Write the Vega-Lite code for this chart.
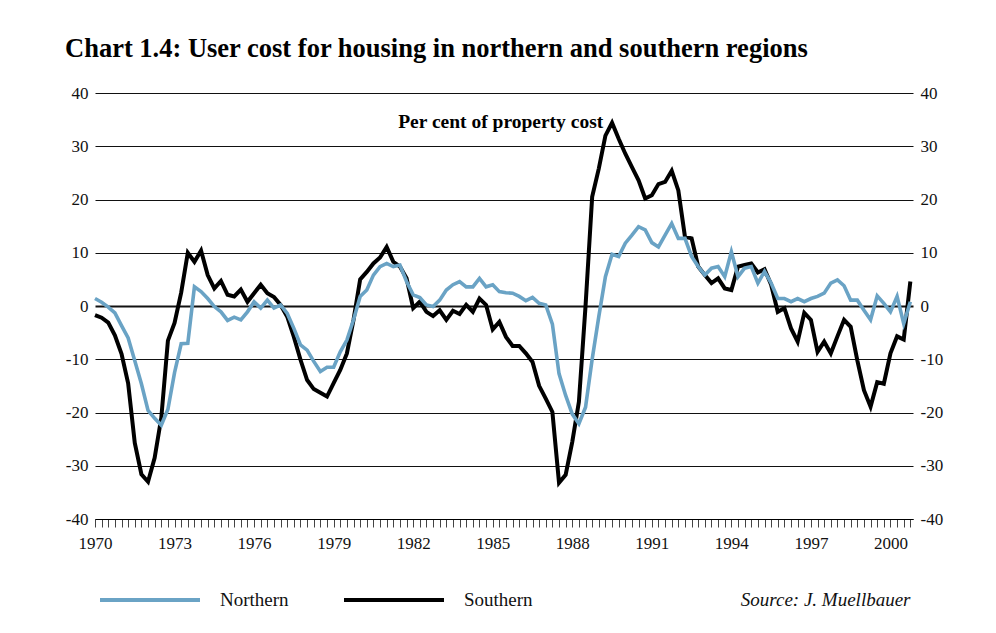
{
  "$schema": "https://vega.github.io/schema/vega-lite/v6.json",
  "width": 818,
  "height": 426,
  "autosize": {"type": "none"},
  "padding": {"left": 95, "top": 93, "right": 83, "bottom": 114},
  "background": "white",
  "title": {
    "text": "Chart 1.4: User cost for housing in northern and southern regions",
    "anchor": "start",
    "frame": "group",
    "dx": -30,
    "offset": 22,
    "font": "Liberation Serif",
    "fontSize": 26.5,
    "fontWeight": "bold",
    "color": "#000000"
  },
  "datasets": {
    "series": [
      {"t": 1970, "N": 1.4, "S": -1.7},
      {"t": 1970.25, "N": 0.7, "S": -2.2},
      {"t": 1970.5, "N": -0.2, "S": -3.1},
      {"t": 1970.75, "N": -1.3, "S": -5.5},
      {"t": 1971, "N": -3.7, "S": -9.0},
      {"t": 1971.25, "N": -6.0, "S": -14.5},
      {"t": 1971.5, "N": -10.3, "S": -25.7},
      {"t": 1971.75, "N": -14.6, "S": -31.6},
      {"t": 1972, "N": -19.6, "S": -33.0},
      {"t": 1972.25, "N": -21.1, "S": -28.5},
      {"t": 1972.5, "N": -22.4, "S": -21.0},
      {"t": 1972.75, "N": -19.4, "S": -6.5},
      {"t": 1973, "N": -12.5, "S": -3.2},
      {"t": 1973.25, "N": -7.1, "S": 2.5},
      {"t": 1973.5, "N": -7.0, "S": 10.0},
      {"t": 1973.75, "N": 3.6, "S": 8.3},
      {"t": 1974, "N": 2.7, "S": 10.4},
      {"t": 1974.25, "N": 1.4, "S": 5.8},
      {"t": 1974.5, "N": -0.1, "S": 3.3},
      {"t": 1974.75, "N": -1.1, "S": 4.7},
      {"t": 1975, "N": -2.7, "S": 2.1},
      {"t": 1975.25, "N": -2.1, "S": 1.8},
      {"t": 1975.5, "N": -2.6, "S": 3.1},
      {"t": 1975.75, "N": -1.1, "S": 0.8},
      {"t": 1976, "N": 0.8, "S": 2.4},
      {"t": 1976.25, "N": -0.4, "S": 4.0},
      {"t": 1976.5, "N": 1.1, "S": 2.4},
      {"t": 1976.75, "N": -0.4, "S": 1.7},
      {"t": 1977, "N": 0.2, "S": 0.2},
      {"t": 1977.25, "N": -1.4, "S": -2.0},
      {"t": 1977.5, "N": -4.2, "S": -5.8},
      {"t": 1977.75, "N": -7.3, "S": -10.1},
      {"t": 1978, "N": -8.3, "S": -13.9},
      {"t": 1978.25, "N": -10.4, "S": -15.6},
      {"t": 1978.5, "N": -12.3, "S": -16.3},
      {"t": 1978.75, "N": -11.5, "S": -17.0},
      {"t": 1979, "N": -11.5, "S": -14.5},
      {"t": 1979.25, "N": -8.6, "S": -12.0},
      {"t": 1979.5, "N": -6.4, "S": -8.9},
      {"t": 1979.75, "N": -2.6, "S": -2.6},
      {"t": 1980, "N": 1.8, "S": 5.0},
      {"t": 1980.25, "N": 3.0, "S": 6.4},
      {"t": 1980.5, "N": 5.8, "S": 8.0},
      {"t": 1980.75, "N": 7.4, "S": 9.1},
      {"t": 1981, "N": 8.0, "S": 11.1},
      {"t": 1981.25, "N": 7.4, "S": 8.3},
      {"t": 1981.5, "N": 7.7, "S": 7.4},
      {"t": 1981.75, "N": 4.6, "S": 5.2},
      {"t": 1982, "N": 2.1, "S": -0.4},
      {"t": 1982.25, "N": 1.6, "S": 0.8},
      {"t": 1982.5, "N": 0.2, "S": -1.1},
      {"t": 1982.75, "N": -0.1, "S": -1.9},
      {"t": 1983, "N": 1.1, "S": -0.8},
      {"t": 1983.25, "N": 3.0, "S": -2.6},
      {"t": 1983.5, "N": 4.0, "S": -0.9},
      {"t": 1983.75, "N": 4.6, "S": -1.5},
      {"t": 1984, "N": 3.6, "S": 0.2},
      {"t": 1984.25, "N": 3.6, "S": -1.1},
      {"t": 1984.5, "N": 5.2, "S": 1.4},
      {"t": 1984.75, "N": 3.6, "S": 0.2},
      {"t": 1985, "N": 4.0, "S": -4.4},
      {"t": 1985.25, "N": 2.7, "S": -3.0},
      {"t": 1985.5, "N": 2.5, "S": -5.8},
      {"t": 1985.75, "N": 2.4, "S": -7.5},
      {"t": 1986, "N": 1.8, "S": -7.5},
      {"t": 1986.25, "N": 1.0, "S": -8.9},
      {"t": 1986.5, "N": 1.6, "S": -10.5},
      {"t": 1986.75, "N": 0.5, "S": -15.0},
      {"t": 1987, "N": 0.2, "S": -17.4},
      {"t": 1987.25, "N": -3.4, "S": -19.9},
      {"t": 1987.5, "N": -12.7, "S": -33.2},
      {"t": 1987.75, "N": -16.8, "S": -31.7},
      {"t": 1988, "N": -20.3, "S": -25.5},
      {"t": 1988.25, "N": -22.1, "S": -18.0},
      {"t": 1988.5, "N": -19.0, "S": 0.0},
      {"t": 1988.75, "N": -10.0, "S": 20.5},
      {"t": 1989, "N": -2.0, "S": 25.8},
      {"t": 1989.25, "N": 5.5, "S": 32.0},
      {"t": 1989.5, "N": 9.7, "S": 34.4},
      {"t": 1989.75, "N": 9.3, "S": 31.4},
      {"t": 1990, "N": 11.8, "S": 28.6},
      {"t": 1990.25, "N": 13.3, "S": 26.1},
      {"t": 1990.5, "N": 14.9, "S": 23.6},
      {"t": 1990.75, "N": 14.3, "S": 20.2},
      {"t": 1991, "N": 11.9, "S": 20.8},
      {"t": 1991.25, "N": 11.1, "S": 22.9},
      {"t": 1991.5, "N": 13.3, "S": 23.3},
      {"t": 1991.75, "N": 15.5, "S": 25.4},
      {"t": 1992, "N": 12.7, "S": 21.7},
      {"t": 1992.25, "N": 12.7, "S": 13.0},
      {"t": 1992.5, "N": 9.3, "S": 12.7},
      {"t": 1992.75, "N": 7.4, "S": 7.4},
      {"t": 1993, "N": 5.8, "S": 5.8},
      {"t": 1993.25, "N": 7.1, "S": 4.3},
      {"t": 1993.5, "N": 7.4, "S": 5.2},
      {"t": 1993.75, "N": 5.5, "S": 3.3},
      {"t": 1994, "N": 10.2, "S": 3.0},
      {"t": 1994.25, "N": 5.5, "S": 7.4},
      {"t": 1994.5, "N": 7.1, "S": 7.7},
      {"t": 1994.75, "N": 7.4, "S": 8.0},
      {"t": 1995, "N": 4.3, "S": 6.3},
      {"t": 1995.25, "N": 6.5, "S": 6.9},
      {"t": 1995.5, "N": 4.3, "S": 4.0},
      {"t": 1995.75, "N": 1.4, "S": -1.1},
      {"t": 1996, "N": 1.4, "S": -0.4},
      {"t": 1996.25, "N": 0.8, "S": -4.2},
      {"t": 1996.5, "N": 1.4, "S": -6.7},
      {"t": 1996.75, "N": 0.8, "S": -1.3},
      {"t": 1997, "N": 1.4, "S": -2.6},
      {"t": 1997.25, "N": 1.8, "S": -8.6},
      {"t": 1997.5, "N": 2.4, "S": -6.7},
      {"t": 1997.75, "N": 4.3, "S": -8.9},
      {"t": 1998, "N": 4.9, "S": -5.7},
      {"t": 1998.25, "N": 3.8, "S": -2.6},
      {"t": 1998.5, "N": 1.1, "S": -3.9},
      {"t": 1998.75, "N": 1.1, "S": -10.2},
      {"t": 1999, "N": -0.8, "S": -15.8},
      {"t": 1999.25, "N": -2.6, "S": -18.9},
      {"t": 1999.5, "N": 1.9, "S": -14.3},
      {"t": 1999.75, "N": 0.5, "S": -14.6},
      {"t": 2000, "N": -1.1, "S": -8.9},
      {"t": 2000.25, "N": 1.8, "S": -5.7},
      {"t": 2000.5, "N": -3.3, "S": -6.3},
      {"t": 2000.75, "N": 0.8, "S": 4.6}
    ],
    "note": [
      {"t": 1985.3, "v": 33.4, "label": "Per cent of property cost"}
    ]
  },
  "layer": [
    {
      "data": {"name": "series"},
      "mark": {"type": "line", "strokeWidth": 4, "strokeJoin": "miter"},
      "encoding": {
        "x": {
          "field": "t",
          "type": "quantitative",
          "scale": {"domain": [1970, 2000.85], "nice": false, "zero": false},
          "axis": {
            "title": "Source: J. Muellbauer",
            "titleFont": "Liberation Serif",
            "titleFontStyle": "italic",
            "titleFontWeight": "normal",
            "titleFontSize": 19,
            "titleColor": "#111111",
            "titleAnchor": "end",
            "titleAlign": "right",
            "titleBaseline": "alphabetic",
            "titleX": 815,
            "titleY": 86,
            "values": [1970, 1970.25, 1970.5, 1970.75, 1971, 1971.25, 1971.5, 1971.75, 1972, 1972.25, 1972.5, 1972.75, 1973, 1973.25, 1973.5, 1973.75, 1974, 1974.25, 1974.5, 1974.75, 1975, 1975.25, 1975.5, 1975.75, 1976, 1976.25, 1976.5, 1976.75, 1977, 1977.25, 1977.5, 1977.75, 1978, 1978.25, 1978.5, 1978.75, 1979, 1979.25, 1979.5, 1979.75, 1980, 1980.25, 1980.5, 1980.75, 1981, 1981.25, 1981.5, 1981.75, 1982, 1982.25, 1982.5, 1982.75, 1983, 1983.25, 1983.5, 1983.75, 1984, 1984.25, 1984.5, 1984.75, 1985, 1985.25, 1985.5, 1985.75, 1986, 1986.25, 1986.5, 1986.75, 1987, 1987.25, 1987.5, 1987.75, 1988, 1988.25, 1988.5, 1988.75, 1989, 1989.25, 1989.5, 1989.75, 1990, 1990.25, 1990.5, 1990.75, 1991, 1991.25, 1991.5, 1991.75, 1992, 1992.25, 1992.5, 1992.75, 1993, 1993.25, 1993.5, 1993.75, 1994, 1994.25, 1994.5, 1994.75, 1995, 1995.25, 1995.5, 1995.75, 1996, 1996.25, 1996.5, 1996.75, 1997, 1997.25, 1997.5, 1997.75, 1998, 1998.25, 1998.5, 1998.75, 1999, 1999.25, 1999.5, 1999.75, 2000, 2000.25, 2000.5, 2000.75],
            "labelExpr": "(datum.value % 3 == 2 && datum.value == floor(datum.value)) ? toString(datum.value) : ''",
            "labelOverlap": false,
            "labelFlush": false,
            "labelFont": "Liberation Serif",
            "labelFontSize": 17,
            "labelColor": "#111111",
            "labelPadding": 8,
            "tickSize": 8,
            "tickColor": "#444444",
            "tickWidth": 1,
            "domainColor": "#000000",
            "domainWidth": 1.2,
            "grid": false
          }
        },
        "y": {
          "field": "S",
          "type": "quantitative",
          "scale": {"domain": [-40, 40], "nice": false},
          "axis": {
            "orient": "left",
            "title": null,
            "values": [-40, -30, -20, -10, 0, 10, 20, 30, 40],
            "labelExpr": "toString(datum.value)",
            "labelFont": "Liberation Serif",
            "labelFontSize": 17,
            "labelColor": "#111111",
            "labelPadding": 7,
            "ticks": false,
            "domain": false,
            "grid": true,
            "gridColor": "#111111",
            "gridOpacity": 1,
            "gridWidth": {"condition": {"test": "datum.value === 0", "value": 2}, "value": 1.2}
          }
        },
        "color": {
          "datum": "Southern",
          "type": "nominal",
          "scale": {"domain": ["Northern", "Southern"], "range": ["#6aa3c5", "#000000"]},
          "legend": {
            "orient": "none",
            "legendX": 3,
            "legendY": 455,
            "direction": "horizontal",
            "title": null,
            "symbolType": "stroke",
            "symbolSize": 10000,
            "symbolStrokeWidth": 4,
            "labelFont": "Liberation Serif",
            "labelFontSize": 19,
            "labelColor": "#111111",
            "labelOffset": 18,
            "columnPadding": 47,
            "padding": 0
          }
        }
      }
    },
    {
      "data": {"name": "series"},
      "mark": {"type": "line", "strokeWidth": 3.6, "strokeJoin": "miter"},
      "encoding": {
        "x": {"field": "t", "type": "quantitative", "axis": null},
        "y": {
          "field": "N",
          "type": "quantitative",
          "axis": {
            "orient": "right",
            "title": null,
            "values": [-40, -30, -20, -10, 0, 10, 20, 30, 40],
            "labelExpr": "toString(datum.value)",
            "labelFont": "Liberation Serif",
            "labelFontSize": 17,
            "labelColor": "#111111",
            "labelPadding": 7,
            "ticks": false,
            "domain": false,
            "grid": false
          }
        },
        "color": {"datum": "Northern", "type": "nominal"}
      }
    },
    {
      "data": {"name": "note"},
      "mark": {"type": "text", "font": "Liberation Serif", "fontSize": 19.5, "fontWeight": "bold", "align": "center", "baseline": "alphabetic", "color": "#000000"},
      "encoding": {
        "x": {"field": "t", "type": "quantitative", "axis": null},
        "y": {"field": "v", "type": "quantitative", "axis": null},
        "text": {"field": "label"}
      }
    }
  ],
  "resolve": {"axis": {"x": "independent", "y": "independent"}},
  "config": {
    "font": "Liberation Serif",
    "view": {"stroke": null}
  }
}
